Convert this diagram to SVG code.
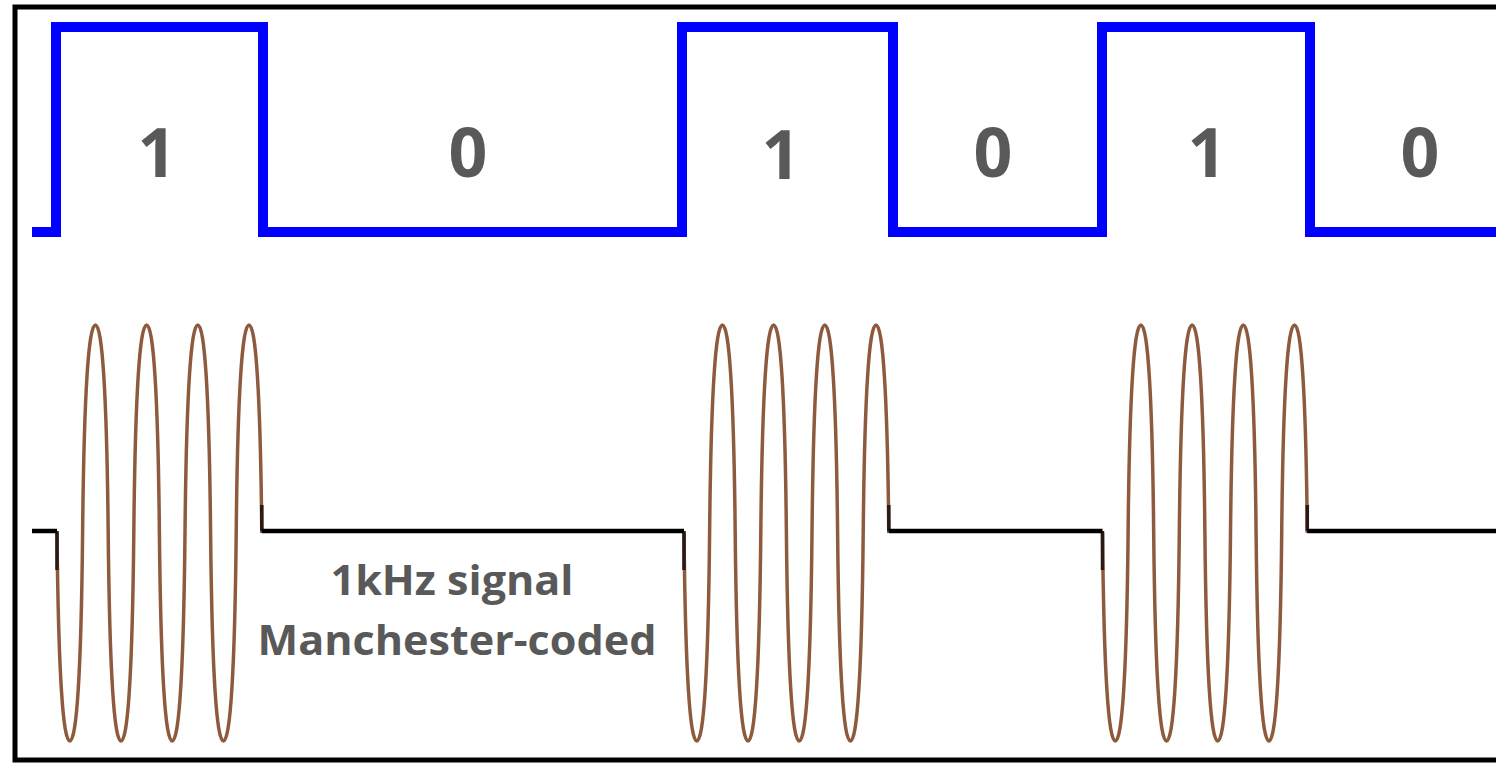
<svg xmlns="http://www.w3.org/2000/svg" width="1496" height="764" viewBox="0 0 1496 764">
  <style>
    .bit { font-family: "Open Sans", "Liberation Sans", sans-serif; font-weight: 700; font-size: 68px; fill: #595959; text-anchor: middle; }
    .cap { font-family: "Open Sans", "Liberation Sans", sans-serif; font-weight: 700; font-size: 42px; fill: #595959; text-anchor: middle; }
    .sq { fill: none; stroke: #0000ff; stroke-width: 10; stroke-linejoin: miter; }
    .base { fill: none; stroke: #000000; stroke-width: 4.5; }
    .stub { fill: none; stroke: #2a1a12; stroke-width: 3.5; }
    .sine { fill: none; stroke: #8e5a3e; stroke-width: 3.5; }
  </style>
  <defs>
    <path id="burst" d="M0,0 c1.4,140 6,208 12.8,208 s11.4,-68 12.8,-208 s6,-208 12.8,-208 s11.4,68 12.8,208 s6,208 12.8,208 s11.4,-68 12.8,-208 s6,-208 12.8,-208 s11.4,68 12.8,208 s6,208 12.8,208 s11.4,-68 12.8,-208 s6,-208 12.8,-208 s11.4,68 12.8,208 s6,208 12.8,208 s11.4,-68 12.8,-208 s6,-208 12.8,-208 s11.4,68 12.8,208"/>
  </defs>
  <rect x="0" y="0" width="1496" height="764" fill="#ffffff"/>
  <rect id="frame" x="15" y="7" width="1500" height="753" fill="none" stroke="#000000" stroke-width="5"/>

  <g id="data-signal">
    <path class="sq" d="M32,232 H56 V27 H263 V232 H682 V27 H893 V232 H1102 V27 H1310 V232 H1496"/>
  </g>

  <g id="bit-labels">
    <text class="bit" x="157" y="177">1</text>
    <text class="bit" x="468" y="177">0</text>
    <text class="bit" x="781" y="179">1</text>
    <text class="bit" x="993" y="177">0</text>
    <text class="bit" x="1207" y="177">1</text>
    <text class="bit" x="1420" y="177">0</text>
  </g>

  <g id="carrier">
    <use href="#burst" class="sine" x="57" y="533"/>
    <use href="#burst" class="sine" x="684" y="533"/>
    <use href="#burst" class="sine" x="1102.5" y="533"/>
    <path class="stub" d="M57,531 V570 M261.8,505 V531 M684,531 V570 M888.8,505 V531 M1102.5,531 V570 M1307.3,505 V531"/>
    <path class="base" d="M32,531 H57 M261.8,531 H684 M888.8,531 H1102.5 M1307.3,531 H1496"/>
  </g>

  <g id="caption">
    <text class="cap" x="452" y="595" textLength="243" lengthAdjust="spacingAndGlyphs">1kHz signal</text>
    <text class="cap" x="457" y="655" textLength="399" lengthAdjust="spacingAndGlyphs">Manchester-coded</text>
  </g>
</svg>
